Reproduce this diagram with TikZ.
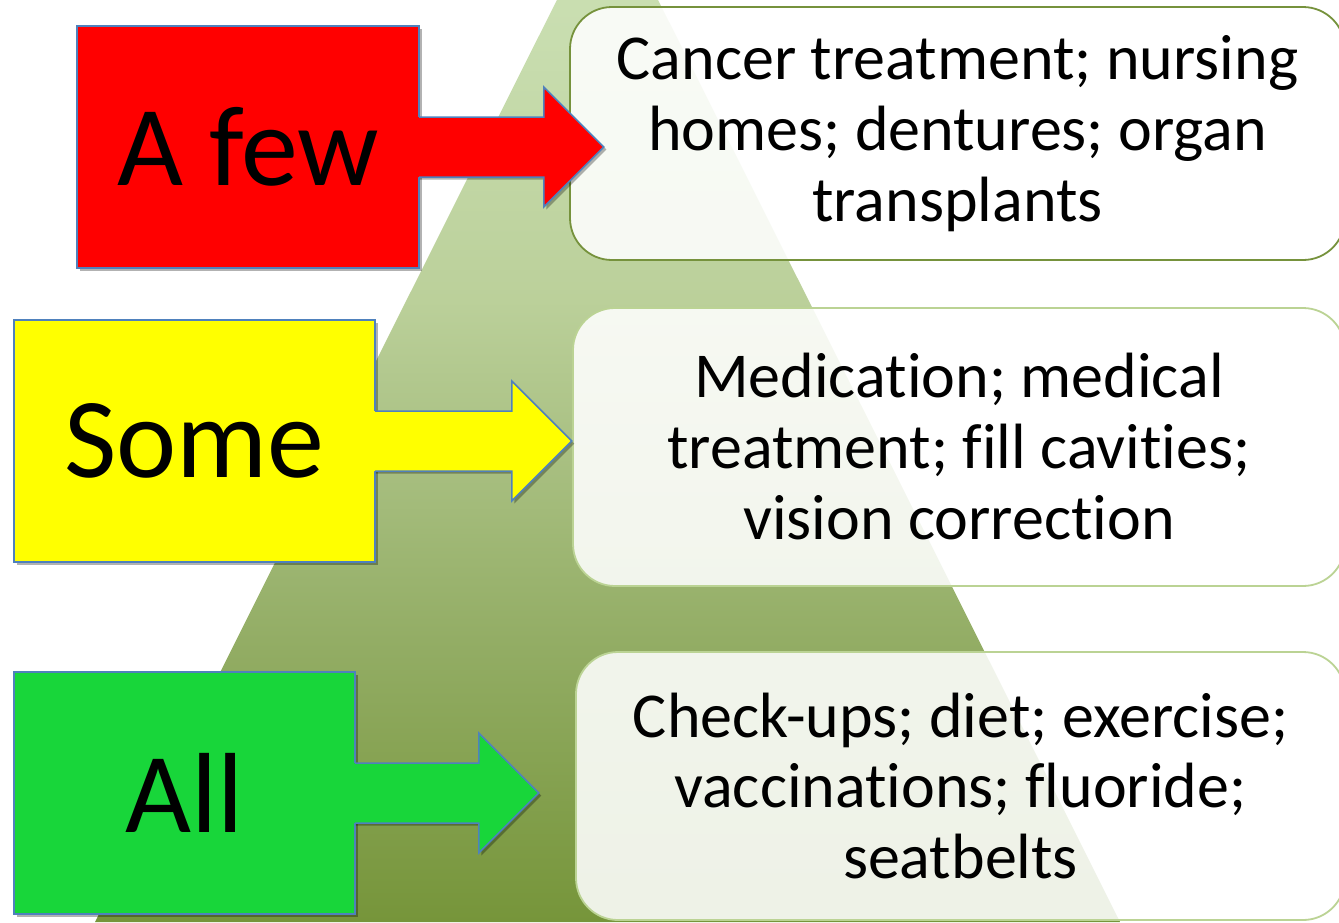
\documentclass[tikz,border=0pt]{standalone}
\usepackage{fontspec}
\setmainfont{Carlito}[Ligatures=NoCommon]
\usepackage{tikz}
\usetikzlibrary{calc,shadows}
\definecolor{pyrtop}{HTML}{CCE0B4}
\definecolor{pyrhigh}{HTML}{C8DDAF}
\definecolor{pyrmid}{HTML}{BBD09A}
\definecolor{pyrlow}{HTML}{93AD65}
\definecolor{pyrbase}{HTML}{76953A}
\definecolor{olive}{HTML}{76923C}
\definecolor{sage}{HTML}{BBD394}
\definecolor{edgeblue}{HTML}{4F81BD}
\definecolor{fewred}{HTML}{FF0000}
\definecolor{someyellow}{HTML}{FFFF00}
\definecolor{allgreen}{HTML}{18D63A}
\pgfdeclareverticalshading{pyramid}{100bp}{color(0bp)=(pyrbase); color(25bp)=(pyrbase);
 color(38.8bp)=(pyrlow); color(55.4bp)=(pyrmid); color(68.1bp)=(pyrhigh);
 color(75bp)=(pyrtop); color(100bp)=(pyrtop)}

\begin{document}
\begin{tikzpicture}[x=1pt,y=-1pt,
 panel/.style={rectangle,rounded corners=42pt,fill=white,fill opacity=.88,text opacity=1,
  line width=1.8pt,inner sep=0pt,align=center,font=\fontsize{64}{71}\selectfont},
 tag/.style={rectangle,draw=edgeblue,line width=1.5pt,inner sep=0pt,minimum height=242pt,
  font=\fontsize{114}{120}\selectfont,
  drop shadow={shadow xshift=2.5pt,shadow yshift=-2.5pt,opacity=.3,fill=black}},
 shaft/.style={drop shadow={shadow xshift=2.5pt,shadow yshift=-2.5pt,opacity=.3,fill=black}},
 rim/.style={draw=edgeblue,line width=1.5pt,line join=miter}]
 \useasboundingbox (0,0) rectangle (1339,922);
 % background pyramid
 \shade[shading=pyramid] (607.5,-101) -- (95,922) -- (1120,922) -- cycle;
 % right hand panels
 \node[panel,draw=olive,minimum width=775pt,minimum height=253pt] (fewcare) at (957.5,133.5)
  {Cancer treatment; nursing\\homes; dentures; organ\\transplants};
 \node[panel,draw=sage,minimum width=772pt,minimum height=278pt] (somecare) at (959,447)
  {Medication; medical\\treatment; fill cavities;\\vision correction};
 \node[panel,draw=sage,minimum width=769pt,minimum height=268pt] (allcare) at (960.5,786)
  {Check-ups; diet; exercise;\\vaccinations; fluoride;\\seatbelts};
 % coloured tags with their arrows
 \node[tag,fill=fewred,minimum width=342pt] (few) at (248,147) {A few};
 \node[tag,fill=someyellow,minimum width=361pt] (some) at (194.5,441) {Some};
 \node[tag,fill=allgreen,minimum width=341pt] (all) at (184.5,793) {All};
 \foreach \t/\c/\l in {few/fewred/124,some/someyellow/136,all/allgreen/123} {
  \fill[\c,shaft] ($(\t.east)+(-2.5,-30)$) -- ++(\l+2.5,0) -- ++(0,-30) -- ++(60,60)
   -- ++(-60,60) -- ++(0,-30) -- ++(-\l-2.5,0) -- cycle;
  \draw[rim] ($(\t.east)+(-.75,-30)$) -- ++(\l+.75,0) -- ++(0,-30) -- ++(60,60)
   -- ++(-60,60) -- ++(0,-30) -- ++(-\l-.75,0);
 }
\end{tikzpicture}
\end{document}
